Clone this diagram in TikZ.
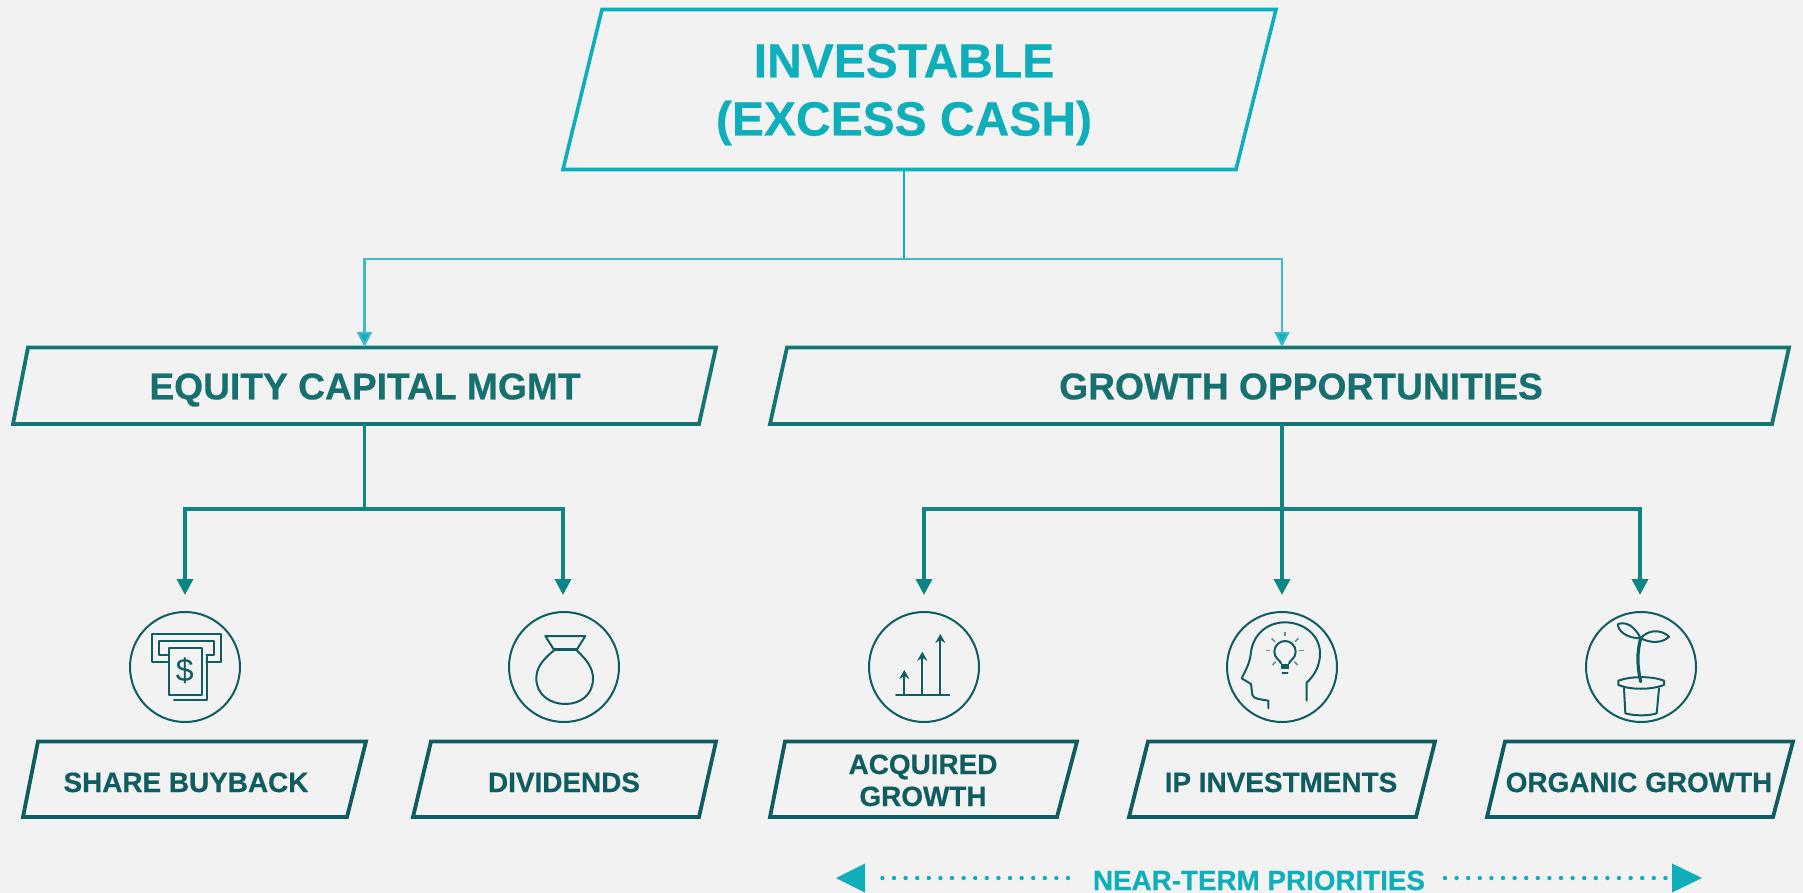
\documentclass[tikz,border=0pt]{standalone}
\usepackage{fontspec}
\setmainfont[BoldFeatures={FakeBold=0.5}]{Liberation Sans}
\usetikzlibrary{arrows.meta}
\definecolor{bgc}{HTML}{F2F2F2}
\definecolor{cyanc}{HTML}{0FAEBB}
\definecolor{cyanl}{HTML}{3DBBC6}
\definecolor{midc}{HTML}{137673}
\definecolor{midtxt}{HTML}{16706F}
\definecolor{arrc}{HTML}{0E8585}
\definecolor{darkc}{HTML}{0F5D60}
\definecolor{rayc}{HTML}{5E9396}
\newcommand{\fsz}[1]{\fontsize{#1}{#1}\selectfont}
\tikzset{
 every node/.style={inner sep=0pt,outer sep=0pt,align=center},
 topbox/.style={draw=cyanc,line width=3.6pt,miter limit=10},
 midbox/.style={draw=midc,line width=3.8pt},
 lowbox/.style={draw=darkc,line width=3.8pt},
 toptxt/.style={text=cyanc,font=\bfseries\fsz{48},text height=34pt,text depth=0pt},
 midlabel/.style={text=midtxt,font=\bfseries\fsz{37.2},text height=26.6pt,text depth=0pt},
 lowlabel/.style={text=darkc,font=\bfseries\fsz{27.9},text height=20pt,text depth=0pt},
 conntop/.style={draw=cyanc,line width=2.8pt},
 connbranch/.style={draw=cyanl,line width=2.2pt,-{Triangle[width=15pt,length=15pt,fill=cyanc]}},
 connmid/.style={draw=arrc,line width=3.6pt},
 connmidarrow/.style={draw=arrc,line width=3.6pt,-{Triangle[width=16pt,length=16pt]}},
 iconring/.style={draw=darkc,line width=2pt},
 iconline/.style={draw=darkc,line width=2pt,line join=round,line cap=round},
 rayline/.style={draw=rayc,line width=1.6pt},
 tri/.style={fill=cyanc},
 dotline/.style={draw=cyanc,line width=4.4pt,line cap=round,dash pattern=on 0pt off 11.6pt},
 zoomed/.style={x=0.33333pt,y=-0.33333pt},
}
\begin{document}
\begin{tikzpicture}[x=1pt,y=-1pt]
\useasboundingbox (0,0) rectangle (1803,893);
\fill[bgc] (0,0) rectangle (1803,893);
% boxes
\draw[topbox] (602,9.5) -- (1276,9.5) -- (1236,169.5) -- (563,169.5) -- cycle;
\draw[midbox] (28,347.5) -- (716,347.5) -- (699,424) -- (13,424) -- cycle;
\draw[midbox] (787,347.5) -- (1789,347.5) -- (1772,424) -- (770,424) -- cycle;
\draw[lowbox] (38,741.5) -- (366,741.5) -- (347,817) -- (23,817) -- cycle;
\draw[lowbox] (431,741.5) -- (716,741.5) -- (699,817) -- (413,817) -- cycle;
\draw[lowbox] (785,741.5) -- (1077,741.5) -- (1057,817) -- (770,817) -- cycle;
\draw[lowbox] (1148,741.5) -- (1435,741.5) -- (1416,817) -- (1129,817) -- cycle;
\draw[lowbox] (1505,741.5) -- (1793,741.5) -- (1773,817) -- (1487,817) -- cycle;
% texts
\node[toptxt] (inv1) at (904,60.5) {INVESTABLE};
\node[toptxt] (inv2) at (904,118.5) {(EXCESS CASH)};
\node[midlabel] (eq) at (365,386) {EQUITY CAPITAL MGMT};
\node[midlabel] (gr) at (1301,386) {GROWTH OPPORTUNITIES};
\node[lowlabel] (sb) at (186,782) {SHARE BUYBACK};
\node[lowlabel] (dv) at (564,782) {DIVIDENDS};
\node[lowlabel] (aq1) at (923,764) {ACQUIRED};
\node[lowlabel] (aq2) at (923,796) {GROWTH};
\node[lowlabel] (ip) at (1281,782) {IP INVESTMENTS};
\node[lowlabel] (og) at (1639,782) {ORGANIC GROWTH};
\node[text=cyanc,font=\bfseries\fsz{27.8},text height=20pt,text depth=0pt] (nt) at (1259,880) {NEAR-TERM PRIORITIES};
% circles
\node[circle,iconring,minimum size=110pt] (c1) at (185,667) {};
\node[circle,iconring,minimum size=110pt] (c2) at (564,667) {};
\node[circle,iconring,minimum size=110pt] (c3) at (924,667) {};
\node[circle,iconring,minimum size=110pt] (c4) at (1282,667) {};
\node[circle,iconring,minimum size=110pt] (c5) at (1641,667) {};
% connector anchors
\coordinate (topout) at (904,170);
\coordinate (j0) at (904,259);
\coordinate (eqin) at (364.5,347);
\coordinate (grin) at (1282,347);
\coordinate (eqout) at (364.5,424);
\coordinate (grout) at (1282,424);
\coordinate (j1) at (364.5,509);
\coordinate (j2) at (1282,509);
\coordinate (t1) at (185,595);
\coordinate (t2) at (563,595);
\coordinate (t3) at (924,595);
\coordinate (t4) at (1282,595);
\coordinate (t5) at (1640,595);
\draw[conntop] (topout) -- (j0);
\draw[connbranch] (j0) -| (eqin);
\draw[connbranch] (j0) -| (grin);
\draw[connmid] (eqout) -- (j1);
\draw[connmid] (grout) -- (j2);
\draw[connmidarrow] (j1) -| (t1);
\draw[connmidarrow] (j1) -| (t2);
\draw[connmidarrow] (j2) -| (t3);
\draw[connmidarrow] (j2) -- (t4);
\draw[connmidarrow] (j2) -| (t5);
% near-term arrows
\coordinate (la) at (836,878);
\coordinate (ra) at (1702,878);
\fill[tri] (la) -- (865,863.5) -- (865,892.5) -- cycle;
\fill[tri] (ra) -- (1672,863.5) -- (1672,892.5) -- cycle;
\draw[dotline] (1068,878) -- (872,878);
\draw[dotline] (1445,878) -- (1666,878);
% icon: cash machine
\begin{scope}[shift={(128,610)},zoomed]
\draw[iconline] (118,155) -- (72,155) -- (72,72) -- (278,72) -- (278,155) -- (235,155);
\draw[iconline] (118,135) -- (92,135) -- (92,92) -- (258,92) -- (258,135) -- (235,135);
\draw[iconline] (122,115) rectangle (222,255);
\draw[iconline] (138,270) -- (238,270) -- (238,140);
\node[text=darkc,font=\fsz{32}] (dollar) at (170,183) {\$};
\end{scope}
% icon: money bag
\begin{scope}[shift={(507,610)},zoomed]
\draw[iconline] (140,118) -- (115,78) -- (235,78) -- (210,118);
\draw[draw=darkc,line width=3.6pt] (140,118) -- (210,118);
\draw[iconline] (140,122) .. controls (105,150) and (88,175) .. (88,205)
  .. controls (88,255) and (130,282) .. (175,282)
  .. controls (220,282) and (258,255) .. (258,205)
  .. controls (258,175) and (240,150) .. (210,122);
\end{scope}
% icon: chart
\draw[iconline] (896,694.7) -- (949.3,694.7);
\foreach \n/\xx/\yy in {a/904.3/670,b/922.3/651.7,c/940.3/634}{
  \draw[iconline,-{Stealth[width=10pt,length=9pt]}] (\xx,694.7) -- (\xx,\yy);
}
% icon: head with bulb
\begin{scope}[shift={(1225,610)},zoomed]
\draw[iconline] (245,272) -- (245,218)
  .. controls (270,195) and (285,165) .. (285,130)
  .. controls (285,75) and (235,37) .. (180,37)
  .. controls (125,37) and (85,75) .. (78,125)
  .. controls (75,155) and (70,165) .. (50,205)
  -- (78,222) -- (82,255)
  .. controls (85,268) and (110,268) .. (130,272) -- (130,295);
\draw[iconline] (168,160) .. controls (165,150) and (148,145) .. (148,125)
  .. controls (148,107) and (163,93) .. (180,93)
  .. controls (197,93) and (212,107) .. (212,125)
  .. controls (212,145) and (195,150) .. (192,160);
\fill[darkc] (168,162) rectangle (192,176);
\draw[iconline] (172,188) -- (188,188);
\draw[rayline] (180,65) -- (180,78);
\draw[rayline] (122,122) -- (135,122);
\draw[rayline] (222,122) -- (236,122);
\draw[rayline] (140,85) -- (150,95);
\draw[rayline] (220,85) -- (210,95);
\draw[rayline] (143,165) -- (152,155);
\draw[rayline] (218,165) -- (208,155);
\end{scope}
% icon: plant
\begin{scope}[shift={(1584,610)},zoomed]
\draw[iconline,line width=3.2pt] (170,215) .. controls (160,170) and (158,130) .. (170,85);
\draw[iconline] (170,85) .. controls (150,45) and (125,35) .. (102,42)
  .. controls (100,60) and (125,85) .. (170,85);
\draw[iconline] (170,85) .. controls (195,55) and (235,60) .. (255,80)
  .. controls (235,100) and (200,100) .. (170,85);
\draw[iconline] (103,212) .. controls (140,198) and (205,198) .. (240,212)
  -- (240,225) .. controls (200,240) and (140,240) .. (103,225) -- cycle;
\draw[iconline] (120,235) -- (124,310) .. controls (150,318) and (195,318) .. (218,310) -- (225,235);
\end{scope}
\end{tikzpicture}
\end{document}
